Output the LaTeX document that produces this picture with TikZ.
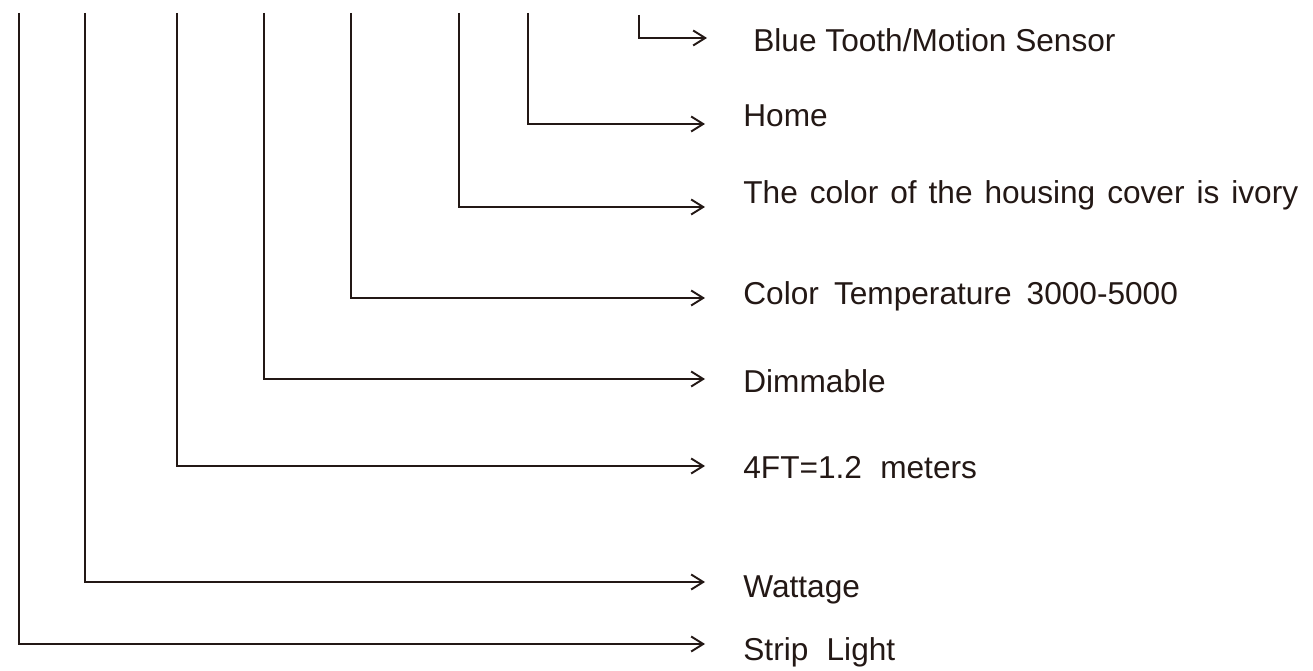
\documentclass[tikz,border=0pt]{standalone}
\usepackage{fontspec}
\setmainfont{Liberation Sans}
\usetikzlibrary{arrows.meta}
\definecolor{inkblack}{RGB}{35,24,21}

\begin{document}
\begin{tikzpicture}[
				declare function = {
						TOP = 13.16;
						TIP = 14.10;
					},
				lead/.style = {-{Straight Barb[length=2.4mm, width=3mm, line width=1.1pt]}, line width=1.1pt, color=inkblack},
				label/.style = {anchor=west, inner sep=0pt, color=inkblack, font=\fontsize{18}{22}\selectfont},
			]
			\path[use as bounding box] (0,0) rectangle (26.26,13.42);
			% tops of the leaders
			\coordinate (strip top)   at (0.38,TOP);
			\coordinate (watt top)    at (1.70,TOP);
			\coordinate (length top)  at (3.54,TOP);
			\coordinate (dim top)     at (5.28,TOP);
			\coordinate (cct top)     at (7.02,TOP);
			\coordinate (cover top)   at (9.18,TOP);
			\coordinate (home top)    at (10.56,TOP);
			\coordinate (sensor top)  at (12.78,13.12);
			% arrow tips
			\coordinate (strip end)   at (TIP,0.54);
			\coordinate (watt end)    at (TIP,1.78);
			\coordinate (length end)  at (TIP,4.10);
			\coordinate (dim end)     at (TIP,5.84);
			\coordinate (cct end)     at (TIP,7.46);
			\coordinate (cover end)   at (TIP,9.28);
			\coordinate (home end)    at (TIP,10.94);
			\coordinate (sensor end)  at (TIP+0.04,12.66);
			% labels
			\node[label, yshift=-0.16cm] (strip)  at ([xshift=0.76cm]strip end)  {Strip\hspace{0.3em} Light};
			\node[label, yshift=-0.16cm] (watt)   at ([xshift=0.76cm]watt end)   {Wattage};
			\node[label, yshift=-0.04cm] (length) at ([xshift=0.76cm]length end) {4FT=1.2\hspace{0.3em} meters};
			\node[label, yshift=-0.04cm] (dim)    at ([xshift=0.76cm]dim end)    {Dimmable};
			\node[label, yshift=0.04cm]  (cct)    at ([xshift=0.76cm]cct end)    {Color\hspace{0.2em} Temperature\hspace{0.2em} 3000-5000};
			\node[label, yshift=0.24cm]  (cover)  at ([xshift=0.76cm]cover end)  {The\hspace{0.1em} color\hspace{0.1em} of\hspace{0.1em} the\hspace{0.1em} housing\hspace{0.1em} cover\hspace{0.1em} is\hspace{0.1em} ivory};
			\node[label, yshift=0.16cm]  (home)   at ([xshift=0.76cm]home end)   {Home};
			\node[label, yshift=-0.04cm] (sensor) at ([xshift=0.92cm]sensor end) {Blue Tooth/Motion Sensor};
			% leaders
			\draw[lead] (strip top)  |- (strip end);
			\draw[lead] (watt top)   |- (watt end);
			\draw[lead] (length top) |- (length end);
			\draw[lead] (dim top)    |- (dim end);
			\draw[lead] (cct top)    |- (cct end);
			\draw[lead] (cover top)  |- (cover end);
			\draw[lead] (home top)   |- (home end);
			\draw[lead] (sensor top) |- (sensor end);
		\end{tikzpicture}
\end{document}
